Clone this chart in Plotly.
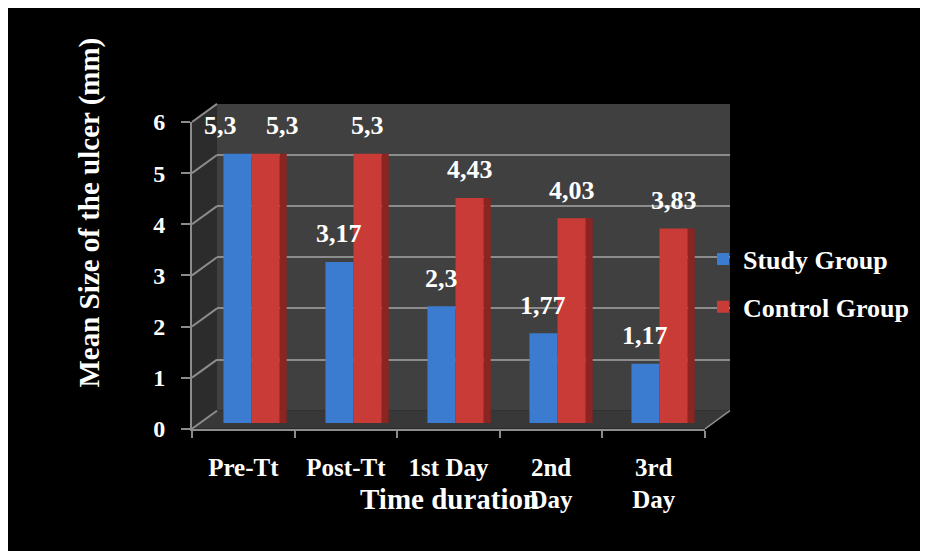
import plotly.graph_objects as go

# ---------------- data ----------------
categories = ["Pre-Tt", "Post-Tt", "1st Day", "2nd Day", "3rd Day"]
tick_text = ["Pre-Tt", "Post-Tt", "1st Day", "2nd<br>Day", "3rd<br>Day"]
study = [5.3, 3.17, 2.3, 1.77, 1.17]
control = [5.3, 5.3, 4.43, 4.03, 3.83]
y_ticks = [0, 1, 2, 3, 4, 5, 6]
series_names = ["Study Group", "Control Group"]

# ---------------- style ----------------
W, H = 928, 551
OFF = 8  # page body margin: the figure starts 8px from the window corner
FONT = "Liberation Serif"
BLUE = "#3b7bd0"
RED = "#c93b37"
RED_SIDE = "#8a2522"
WALL = "#404040"
SIDE = "#2c2c2c"
FLOOR = "#383838"
GRID = "#8c8c8c"
AX = "#8c8c8c"


def px(x):
    return (x - OFF) / W


def py(y):
    return 1 - (y - OFF) / H


# geometry (window pixels) of the pseudo-3D frame
FRONT_L, FRONT_R, FRONT_B, FRONT_T = 192, 705, 436, 114
BACK_L, BACK_R, BACK_B, BACK_T = 217, 730, 417, 95
BAR_W = 0.275
SIDE_W = 0.07

fig = go.Figure()

# empty placeholder traces so the wall subplot and the front-axis subplot exist
fig.add_trace(go.Scatter(x=[], y=[], xaxis="x", yaxis="y", showlegend=False,
                         hoverinfo="skip"))
fig.add_trace(go.Scatter(x=[], y=[], xaxis="x3", yaxis="y3", showlegend=False,
                         hoverinfo="skip"))

# shaded right side of the control bars (pseudo-3D depth)
fig.add_trace(go.Bar(
    x=categories, y=control, xaxis="x2", yaxis="y2", showlegend=False,
    marker=dict(color=RED_SIDE, line=dict(width=0)),
    width=SIDE_W, offset=BAR_W, hoverinfo="skip",
))

for name, vals, col, off in [(series_names[0], study, BLUE, -BAR_W),
                             (series_names[1], control, RED, 0.0)]:
    fig.add_trace(go.Bar(
        x=categories, y=vals, name=f"<b>{name}</b>", xaxis="x2", yaxis="y2",
        marker=dict(color=col, line=dict(width=0)),
        width=BAR_W, offset=off, legendgroup=name,
        hoverinfo="x+y",
    ))

# data labels
annotations = []
for i, (s, c) in enumerate(zip(study, control)):
    close = abs(s - c) < 0.4
    for v, sign in [(s, -1), (c, 1)]:
        annotations.append(dict(
            x=i + sign * BAR_W / 2, y=v, xref="x2", yref="y2",
            text=f"<b>{v:g}</b>".replace(".", ","), showarrow=False,
            xanchor="center", yanchor="middle", yshift=28,
            xshift=(sign * 17 if close else 0),
            font=dict(family=FONT, size=26, color="white"),
        ))

annotations.append(dict(
    x=px(90), y=py(209), xref="paper", yref="paper", showarrow=False,
    xanchor="center", yanchor="middle",
    text="<b>Mean Size of the ulcer (mm)</b>", textangle=-90,
    font=dict(family=FONT, size=29, color="white"),
))
annotations.append(dict(
    x=px(449), y=py(510), xref="paper", yref="paper", showarrow=False,
    xanchor="center", yanchor="middle",
    text="<b>Time duration</b>",
    font=dict(family=FONT, size=29, color="white"),
))

shapes = [
    # back wall
    dict(type="rect", xref="paper", yref="paper", x0=px(BACK_L), x1=px(BACK_R),
         y0=py(BACK_B), y1=py(BACK_T),
         fillcolor=WALL, line=dict(width=0), layer="below"),
    # side wall
    dict(type="path", xref="paper", yref="paper", layer="below",
         path=(f"M{px(FRONT_L)},{py(FRONT_T)} L{px(BACK_L)},{py(BACK_T)} "
               f"L{px(BACK_L)},{py(BACK_B)} L{px(FRONT_L)},{py(FRONT_B)} Z"),
         fillcolor=SIDE, line=dict(width=0)),
    # floor
    dict(type="path", xref="paper", yref="paper", layer="below",
         path=(f"M{px(FRONT_L)},{py(FRONT_B)} L{px(BACK_L)},{py(BACK_B)} "
               f"L{px(BACK_R)},{py(BACK_B)} L{px(FRONT_R)},{py(FRONT_B)} Z"),
         fillcolor=FLOOR, line=dict(width=0)),
]
# receding grid lines on the side wall, joining front ticks to back-wall grid lines
for v in y_ticks:
    yf = FRONT_B - (FRONT_B - FRONT_T) * v / 6
    yb = BACK_B - (BACK_B - BACK_T) * v / 6
    shapes.append(dict(type="line", xref="paper", yref="paper", layer="below",
                       x0=px(FRONT_L), y0=py(yf), x1=px(BACK_L), y1=py(yb),
                       line=dict(color=GRID, width=2)))
# right edge of the floor
shapes.append(dict(type="line", xref="paper", yref="paper", layer="below",
                   x0=px(FRONT_R), y0=py(FRONT_B), x1=px(BACK_R), y1=py(BACK_B),
                   line=dict(color=GRID, width=1.5)))

fig.update_layout(
    width=W, height=H,
    margin=dict(l=0, r=0, t=0, b=0),
    paper_bgcolor="black",
    plot_bgcolor="rgba(0,0,0,0)",
    barmode="overlay",
    showlegend=True,
    legend=dict(
        x=px(703), y=py(283), xanchor="left", yanchor="middle",
        font=dict(family=FONT, size=26, color="white"),
        bgcolor="rgba(0,0,0,0)", tracegroupgap=11, traceorder="grouped",
    ),
    # back wall subplot (grid)
    xaxis=dict(domain=[px(BACK_L), px(BACK_R)], range=[0, 1], visible=False,
               anchor="y"),
    yaxis=dict(domain=[py(BACK_B), py(BACK_T)], range=[0, 6], tickvals=y_ticks,
               showgrid=True, gridcolor=GRID, gridwidth=2, showticklabels=False,
               zeroline=False, showline=False, ticks="", anchor="x"),
    # bars subplot
    xaxis2=dict(domain=[px(200.5), px(710.5)], range=[-0.5, 4.5], type="category",
                categoryorder="array", categoryarray=categories,
                visible=False, anchor="y2"),
    yaxis2=dict(domain=[py(430), py(110)], range=[0, 6], visible=False,
                showgrid=False, anchor="x2"),
    # front axes subplot
    xaxis3=dict(domain=[px(FRONT_L), px(FRONT_R)], range=[-0.5, 4.5], anchor="y3",
                tickmode="array", tickvals=list(range(len(categories))),
                ticktext=[f"<b>{t}</b>" for t in tick_text], ticks="",
                showgrid=False, zeroline=False,
                showline=True, linecolor=AX, linewidth=2,
                ticklabelstandoff=15,
                minor=dict(ticks="outside", tick0=-0.5, dtick=1, ticklen=7,
                           tickcolor=AX, tickwidth=2, showgrid=False),
                tickfont=dict(family=FONT, size=25, color="white")),
    yaxis3=dict(domain=[py(FRONT_B), py(FRONT_T)], range=[0, 6], anchor="x3",
                tickmode="array", tickvals=y_ticks,
                ticktext=[f"<b>{v}</b>" for v in y_ticks],
                ticks="outside", ticklen=9, tickcolor=AX,
                tickwidth=2, showline=True, linecolor=AX, linewidth=2,
                showgrid=False, zeroline=False, ticklabelstandoff=11,
                tickfont=dict(family=FONT, size=24, color="white")),
    annotations=annotations,
    shapes=shapes,
)

fig.write_html("out.html")
